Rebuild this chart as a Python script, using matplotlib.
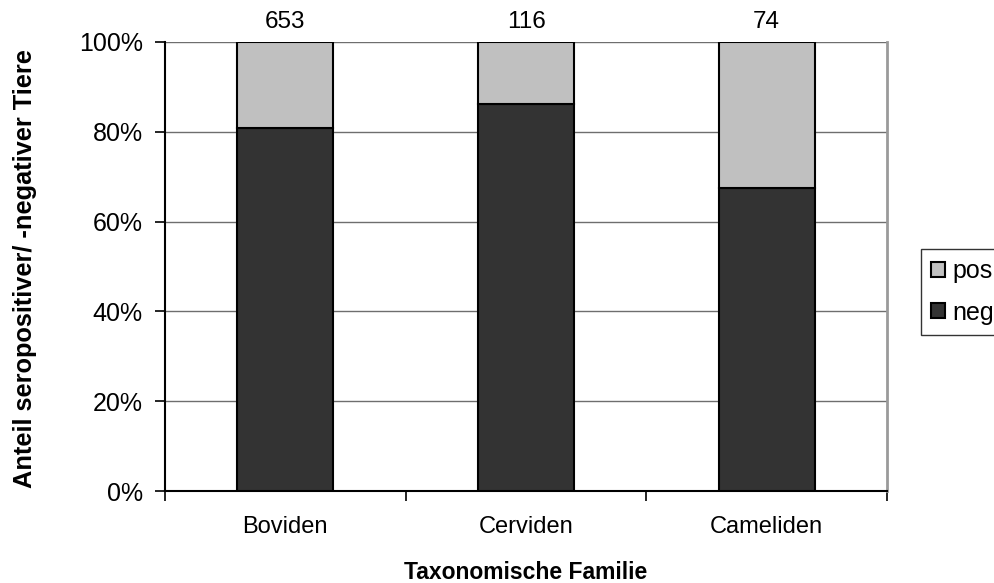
import numpy as np
import matplotlib.pyplot as plt
from matplotlib.ticker import FixedLocator, PercentFormatter

# --- data ---
families = ["Boviden", "Cerviden", "Cameliden"]
n_total = [653, 116, 74]
n_neg = [528, 100, 50]

plt.rcParams['font.family'] = ['Liberation Sans', 'DejaVu Sans']

neg = np.array(n_neg) / np.array(n_total) * 100
pos = 100 - neg

fig = plt.figure(figsize=(9.95, 5.83), dpi=100)
ax = fig.add_axes([0.1658, 0.1578, 0.7257, 0.7702])

x = np.arange(len(families))
w = 0.4
ax.bar(x, neg, w, color='#333333', edgecolor='black', linewidth=1.5, label='neg', zorder=3)
ax.bar(x, pos, w, bottom=neg, color='#c0c0c0', edgecolor='black', linewidth=1.5, label='pos', zorder=3)

# totals above bars
for xi, n in zip(x, n_total):
    ax.text(xi, 102, str(n), ha='center', va='bottom', fontsize=17.5)

ax.set_xlim(-0.5, 2.5)
ax.set_ylim(0, 100)
ax.set_yticks(np.arange(0, 101, 20))
ax.yaxis.set_major_formatter(PercentFormatter(decimals=0))
ax.yaxis.grid(True, color='#6e6e6e', linewidth=1, zorder=0)

ax.set_xticks(x)
ax.set_xticklabels(families)
ax.xaxis.set_minor_locator(FixedLocator([-0.5, 0.5, 1.5, 2.5]))
ax.tick_params(axis='x', which='major', length=0, pad=18, labelsize=17)
ax.tick_params(axis='x', which='minor', length=7, width=1.2)
ax.tick_params(axis='y', length=7, width=1.2, labelsize=18, pad=9)

for s in ['left', 'bottom']:
    ax.spines[s].set_linewidth(1.5)
    ax.spines[s].set_color('black')
ax.spines['top'].set_visible(False)
ax.spines['right'].set_color('#9a9a9a')
ax.spines['right'].set_linewidth(2)

ax.set_xlabel("Taxonomische Familie", fontsize=16.5, fontweight='bold')
ax.xaxis.set_label_coords(0.5, -0.155)
ax.set_ylabel("Anteil seropositiver/ -negativer Tiere", fontsize=18.3, fontweight='bold')
ax.yaxis.set_label_coords(-0.177, 0.495)

handles, labels = ax.get_legend_handles_labels()
leg = fig.legend(handles[::-1], labels[::-1], loc='center left',
                 bbox_to_anchor=(921 / 995, 1 - 292 / 583), fontsize=18,
                 frameon=True, fancybox=False, edgecolor='black',
                 handlelength=0.55, handleheight=0.55, handletextpad=0.3,
                 borderpad=0.4, labelspacing=0.7, borderaxespad=0)
leg.get_frame().set_linewidth(1)

fig.savefig("out.png", dpi=100)
